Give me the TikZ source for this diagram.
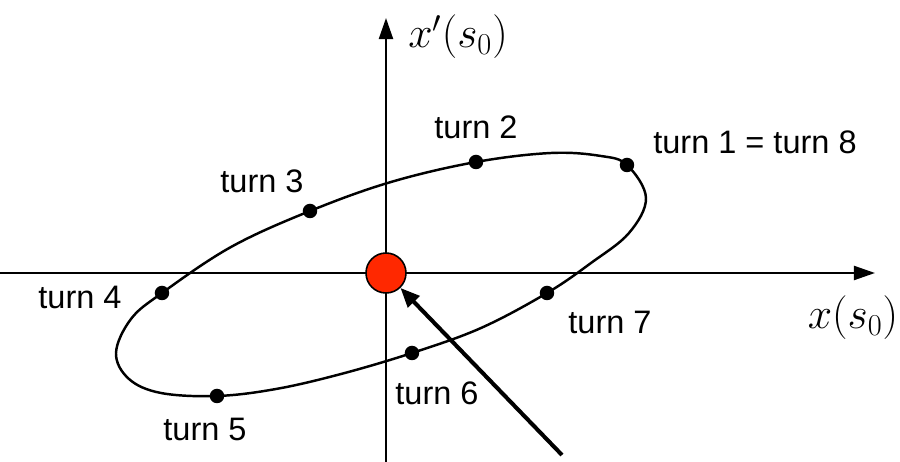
\documentclass[tikz,border=0pt]{standalone}
\usepackage{fontspec}
\setmainfont{Liberation Sans}
\usetikzlibrary{arrows.meta}

\definecolor{refred}{RGB}{255,40,0}

\begin{document}
\begin{tikzpicture}[
  >=Triangle,
  axis/.style={-{Triangle[length=12pt,width=8pt]}, line width=1.2pt},
  orbit/.style={line width=1.4pt},
  turndot/.style={circle, fill=black, inner sep=0pt, minimum size=0.29cm},
  lab/.style={font=\fontsize{18.5}{22}\selectfont},
  mlab/.style={font=\fontsize{23}{27}\selectfont},
  refpt/.style={circle, draw=black, line width=0.9pt, fill=refred, minimum size=0.8cm, inner sep=0pt},
  pointer/.style={-{Triangle[length=11pt,width=9pt]}, line width=2.3pt}
]
\path[use as bounding box] (-7.72,-3.78) rectangle (10.28,5.46);

% axes
\coordinate (xl) at (-7.72,0);
\coordinate (xr) at (9.78,0);
\coordinate (yb) at (0,-3.78);
\coordinate (yt) at (0,5.10);
\draw[axis] (xl) -- (xr);
\draw[axis] (yb) -- (yt);
\node[mlab] (xlab) at (9.34,-0.90) {$x\bigl(s_0\bigr)$};
\node[mlab] (xplab) at (1.44,4.72) {$x'\bigl(s_0\bigr)$};

% turn positions on the phase ellipse
\coordinate (t1) at (4.82,2.16);
\coordinate (t7) at (3.22,-0.40);
\coordinate (t6) at (0.52,-1.60);
\coordinate (t5) at (-3.38,-2.46);
\coordinate (t4) at (-4.48,-0.40);
\coordinate (t3) at (-1.52,1.24);
\coordinate (t2) at (1.80,2.22);

\draw[orbit] plot[smooth cycle, tension=0.6] coordinates {
  (4.82,2.16) (5.20,1.50) (4.86,0.80) (4.10,0.20) (3.22,-0.40)
  (1.90,-1.10) (0.52,-1.60) (-0.90,-2.02) (-2.20,-2.32) (-3.38,-2.46)
  (-4.50,-2.40) (-5.14,-2.12) (-5.40,-1.60) (-5.10,-0.92) (-4.48,-0.40)
  (-3.10,0.52) (-1.52,1.24) (0.10,1.82) (1.80,2.22) (3.30,2.40)
  (4.30,2.34)};

\foreach \t in {1,...,7}
  \node[turndot] (d\t) at (t\t) {};

\node[lab] (l1) at (7.38,2.62) {turn 1 = turn 8};
\node[lab] (l2) at (1.80,2.92) {turn 2};
\node[lab] (l3) at (-2.48,1.84) {turn 3};
\node[lab] (l4) at (-6.12,-0.48) {turn 4};
\node[lab] (l5) at (-3.62,-3.12) {turn 5};
\node[lab] (l6) at (1.02,-2.40) {turn 6};
\node[lab] (l7) at (4.48,-0.98) {turn 7};

% reference particle
\node[refpt] (ref) at (0,0) {};
\coordinate (tail) at (3.52,-3.64);
\draw[pointer] (tail) -- (ref);
\end{tikzpicture}
\end{document}
